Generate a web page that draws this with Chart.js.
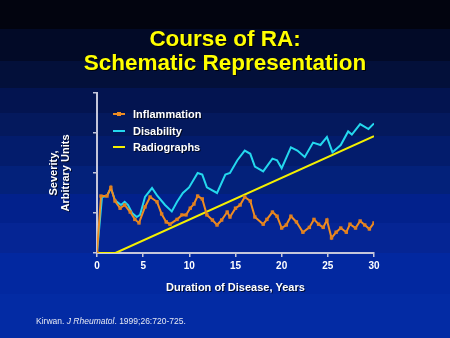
<!DOCTYPE html>
<html>
<head>
<meta charset="utf-8">
<script src="https://cdn.jsdelivr.net/npm/chart.js@4/dist/chart.umd.min.js"></script>
<style>
  html, body { margin: 0; padding: 0; background: #02040f; }
  #chart { display: block; }
</style>
</head>
<body>
<canvas id="chart" width="450" height="338"></canvas>
<script>
// Severity over disease duration (years, arbitrary units)
var inflammationYears = [0, 0.43, 1.08, 1.5, 1.95, 2.5, 3.0, 3.6, 4.1, 4.55, 5.2, 5.75, 6.5, 7.0, 7.5, 7.9, 8.67, 9.2, 9.64, 10.1, 10.5, 10.9, 11.4, 11.9, 12.5, 13.0, 13.5, 14.1, 14.4, 15.0, 15.5, 16.0, 16.6, 17.1, 18.0, 18.4, 19.0, 19.5, 20.0, 20.5, 21.0, 21.6, 22.3, 23.0, 23.5, 24.0, 24.5, 24.9, 25.4, 25.9, 26.4, 27.0, 27.4, 28.0, 28.5, 29.0, 29.5, 30.0];
var inflammationValues = [0, 35.6, 35.6, 41, 32.5, 28, 30, 25.6, 21, 18.8, 28.8, 35, 32, 24.4, 19.4, 18, 21, 23.8, 23.8, 28, 30.6, 35.6, 33.8, 23.8, 20.6, 17.5, 20.6, 25.6, 22.5, 28, 30, 35, 32.5, 22.5, 18, 21, 25.6, 23, 15.6, 17.5, 23, 19.4, 13, 16, 21, 18, 16, 20.6, 9.4, 13, 15.6, 13, 18, 15.6, 20, 17.5, 15, 18.8];

var disabilityYears = [0, 0.54, 1.08, 1.5, 1.95, 2.6, 3.0, 3.36, 3.8, 4.3, 4.66, 5.2, 5.96, 6.5, 7.37, 8.1, 8.67, 9.3, 9.97, 10.9, 11.4, 11.9, 13.0, 13.9, 14.4, 15.2, 16.0, 16.6, 17.1, 18.0, 19.0, 19.5, 20.0, 21.0, 21.7, 22.5, 23.4, 24.2, 24.9, 25.5, 26.4, 27.2, 27.6, 28.5, 29.4, 30.0];
var disabilityValues = [0, 35, 35.6, 40.6, 33, 30, 32, 30, 25, 22.5, 23.8, 35, 40.6, 36, 30, 26, 32, 37.5, 41, 50, 49, 41, 37.5, 49, 50, 58, 64, 62, 54, 51, 59, 58, 53, 66, 64, 60, 69, 67.5, 72.5, 63, 67.5, 76, 74, 80.6, 77.5, 81];

var radiographYears = [0, 2, 30];
var radiographValues = [0, 0, 73];

var seriesLabels = ['Inflammation', 'Disability', 'Radiographs'];
var xTicks = { min: 0, max: 30, step: 5 };
var yTicks = { min: 0, max: 100, step: 25 };

var titleLines = ['Course of RA:', 'Schematic Representation'];
var xTitle = 'Duration of Disease, Years';
var yTitleLines = ['Severity,', 'Arbitrary Units'];

function toPoints(xs, ys) {
  var pts = [];
  for (var i = 0; i < xs.length; i++) {
    pts.push({ x: xs[i], y: ys[i] });
  }
  return pts;
}

var ORANGE = '#ee8c22';
var CYAN = '#24d8ee';
var YELLOW = '#f4f000';
var AXIS = '#c4c6da';

// stepped blue backdrop, dark at the top
var backdrop = {
  id: 'backdrop',
  beforeDraw: function (chart) {
    var c = chart.ctx;
    var stops = [0, 29, 61, 88, 113, 136, 166, 194, 223, 253, 294, 338];
    var colors = ['#02040f', '#020a27', '#03103a', '#031450', '#04195d', '#031c6c', '#03217a', '#02218c', '#052594', '#0228a0', '#032ba4'];
    c.save();
    for (var i = 0; i < colors.length; i++) {
      c.fillStyle = colors[i];
      c.fillRect(0, stops[i], chart.width, stops[i + 1] - stops[i]);
    }
    c.restore();
  }
};

// headings, legend, axis titles and source line
var annotations = {
  id: 'annotations',
  afterDraw: function (chart) {
    var c = chart.ctx;
    var area = chart.chartArea;
    c.save();

    c.font = 'bold 22.5px "Liberation Sans", Arial, sans-serif';
    c.textAlign = 'center';
    c.textBaseline = 'alphabetic';
    c.shadowColor = 'rgba(0,0,0,0.85)';
    c.shadowOffsetX = 1;
    c.shadowOffsetY = 1;
    c.fillStyle = '#ffff00';
    c.fillText(titleLines[0], 225, 46);
    c.fillText(titleLines[1], 225, 69.5);

    // legend
    c.font = 'bold 11px "Liberation Sans", Arial, sans-serif';
    c.textAlign = 'left';
    c.textBaseline = 'middle';
    var colors = [ORANGE, CYAN, YELLOW];
    var rows = [114, 131, 147];
    for (var i = 0; i < seriesLabels.length; i++) {
      c.shadowColor = 'transparent';
      c.strokeStyle = colors[i];
      c.lineWidth = 2;
      c.beginPath();
      c.moveTo(113, rows[i]);
      c.lineTo(125, rows[i]);
      c.stroke();
      if (i === 0) {
        c.fillStyle = ORANGE;
        c.fillRect(117, rows[i] - 2, 4, 4);
      }
      c.shadowColor = 'rgba(0,0,0,0.7)';
      c.fillStyle = '#ffffff';
      c.fillText(seriesLabels[i], 133, rows[i] + 0.5);
    }

    // x title
    c.font = 'bold 11px "Liberation Sans", Arial, sans-serif';
    c.textAlign = 'center';
    c.fillText(xTitle, (area.left + area.right) / 2, 288);

    // y title, rotated
    c.save();
    c.translate(60, (area.top + area.bottom) / 2);
    c.rotate(-Math.PI / 2);
    c.fillText(yTitleLines[0], 0, -6);
    c.fillText(yTitleLines[1], 0, 6);
    c.restore();

    // source
    c.shadowColor = 'transparent';
    c.textAlign = 'left';
    c.textBaseline = 'alphabetic';
    c.fillStyle = '#e6e8f2';
    var x = 36, base = 324;
    var parts = [['Kirwan. ', ''], ['J Rheumatol', 'italic '], ['. 1999;26:720-725.', '']];
    for (var p = 0; p < parts.length; p++) {
      c.font = parts[p][1] + '8.5px "Liberation Sans", Arial, sans-serif';
      c.fillText(parts[p][0], x, base);
      x += c.measureText(parts[p][0]).width;
    }
    c.restore();
  }
};

var ctx = document.getElementById('chart').getContext('2d');
new Chart(ctx, {
  type: 'scatter',
  data: {
    datasets: [{
      label: seriesLabels[0],
      data: toPoints(inflammationYears, inflammationValues),
      showLine: true,
      borderColor: ORANGE,
      borderWidth: 2,
      tension: 0,
      pointStyle: 'rect',
      pointRadius: 2.4,
      pointBorderWidth: 0,
      pointBackgroundColor: '#e2801e'
    }, {
      label: seriesLabels[1],
      data: toPoints(disabilityYears, disabilityValues),
      showLine: true,
      borderColor: CYAN,
      borderWidth: 2,
      tension: 0,
      pointRadius: 0
    }, {
      label: seriesLabels[2],
      data: toPoints(radiographYears, radiographValues),
      showLine: true,
      borderColor: YELLOW,
      borderWidth: 2,
      tension: 0,
      pointRadius: 0
    }]
  },
  options: {
    responsive: false,
    animation: false,
    events: [],
    layout: { padding: { left: 93, top: 93, right: 76, bottom: 0 } },
    plugins: {
      legend: { display: false },
      tooltip: { enabled: false }
    },
    scales: {
      x: {
        type: 'linear',
        min: xTicks.min,
        max: xTicks.max,
        ticks: {
          stepSize: xTicks.step,
          color: '#ffffff',
          padding: 3,
          font: { family: '"Liberation Sans", Arial, sans-serif', size: 10, weight: 'bold' }
        },
        grid: { drawOnChartArea: false, color: AXIS, lineWidth: 1.5, tickLength: 4 },
        border: { color: AXIS, width: 2 },
        afterFit: function (scale) { scale.height = 85; }
      },
      y: {
        min: yTicks.min,
        max: yTicks.max,
        ticks: { stepSize: yTicks.step, display: false },
        grid: { drawOnChartArea: false, color: AXIS, lineWidth: 1.5, tickLength: 4 },
        border: { color: AXIS, width: 2 },
        afterFit: function (scale) { scale.width = 4; }
      }
    }
  },
  plugins: [backdrop, annotations]
});
</script>
</body>
</html>
